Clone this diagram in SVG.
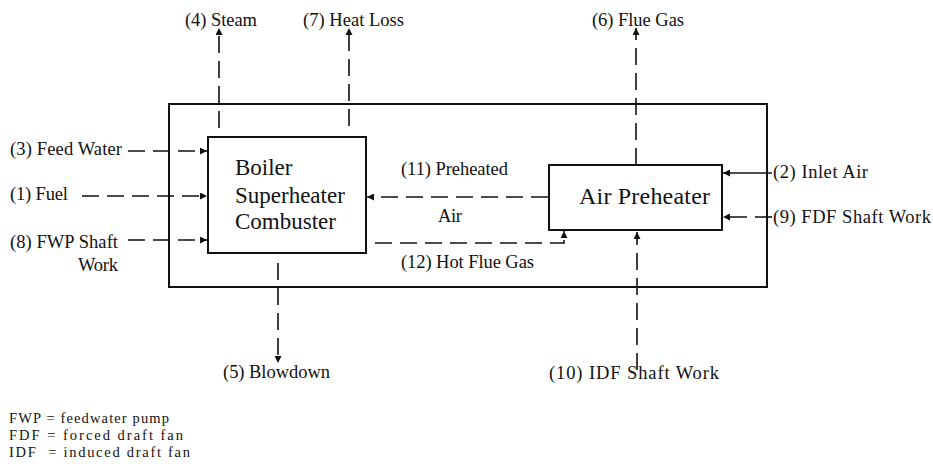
<svg xmlns="http://www.w3.org/2000/svg" width="933" height="473" viewBox="0 0 933 473">
<style>
text{font-family:"Liberation Serif","Times New Roman","DejaVu Serif",serif;fill:#111;}
.lb{font-size:18.5px;}
.bx{font-size:23px;}
.ap{font-size:24px;}
.lg{font-size:14.5px;}
.box{fill:none;stroke:#111;stroke-width:2;}
.d{fill:none;stroke:#111;stroke-width:1.6;stroke-dasharray:17 8;marker-end:url(#ah);}
.s{fill:none;stroke:#111;stroke-width:1.6;marker-end:url(#ah);}
</style>
<defs>
<marker id="ah" viewBox="0 0 10 10" refX="10" refY="5" markerWidth="9" markerHeight="7" markerUnits="userSpaceOnUse" orient="auto">
<path d="M0,0 L10,5 L0,10 Z" fill="#111"/>
</marker>
</defs>
<rect width="933" height="473" fill="#fff"/>
<g id="system-boundary"><rect class="box" x="169" y="104" width="598" height="183"/></g>
<g id="boiler">
<rect class="box" x="208" y="137" width="158" height="116"/>
<text class="bx" x="235" y="175">Boiler</text>
<text class="bx" x="235" y="203">Superheater</text>
<text class="bx" x="235" y="229">Combuster</text>
</g>
<g id="air-preheater">
<rect class="box" x="549" y="165" width="173" height="65"/>
<text class="ap" x="579" y="204" textLength="131">Air Preheater</text>
</g>
<g id="connectors">
<path class="d" d="M219,128 V28"/>
<path class="d" d="M349,126 V28"/>
<path class="d" d="M636,165 V28"/>
<path class="d" d="M278,263 V363"/>
<path class="d" d="M637,370 V232"/>
<path class="d" d="M128,151 H207"/>
<path class="d" d="M82,196 H207"/>
<path class="d" d="M128,240 H207"/>
<path class="s" d="M772,173 H723"/>
<path class="d" d="M772,217 H723"/>
<path class="d" d="M548,197 H367"/>
<path class="d" d="M375,243 H564 V231"/>
</g>
<g id="labels">
<text class="lb" x="185" y="26" textLength="72">(4) Steam</text>
<text class="lb" x="303" y="26" textLength="101">(7) Heat Loss</text>
<text class="lb" x="592" y="26" textLength="92">(6) Flue Gas</text>
<text class="lb" x="10" y="155" textLength="112">(3) Feed Water</text>
<text class="lb" x="10" y="200" textLength="58">(1) Fuel</text>
<text class="lb" x="10" y="248" textLength="108">(8) FWP Shaft</text>
<text class="lb" x="78" y="271" textLength="40">Work</text>
<text class="lb" x="401" y="175" textLength="107">(11) Preheated</text>
<text class="lb" x="438" y="222" textLength="24">Air</text>
<text class="lb" x="401" y="268" textLength="133">(12) Hot Flue Gas</text>
<text class="lb" x="773" y="178" textLength="95">(2) Inlet Air</text>
<text class="lb" x="773" y="223" textLength="158">(9) FDF Shaft Work</text>
<text class="lb" x="223" y="378" textLength="107">(5) Blowdown</text>
<text class="lb" x="549" y="379" textLength="170">(10) IDF Shaft Work</text>
</g>
<g id="legend">
<text class="lg" x="9" y="423" textLength="160">FWP = feedwater pump</text>
<text class="lg" x="9" y="440" textLength="174">FDF = forced draft fan</text>
<text class="lg" x="9" y="457" textLength="181" xml:space="preserve">IDF  = induced draft fan</text>
</g>
</svg>
